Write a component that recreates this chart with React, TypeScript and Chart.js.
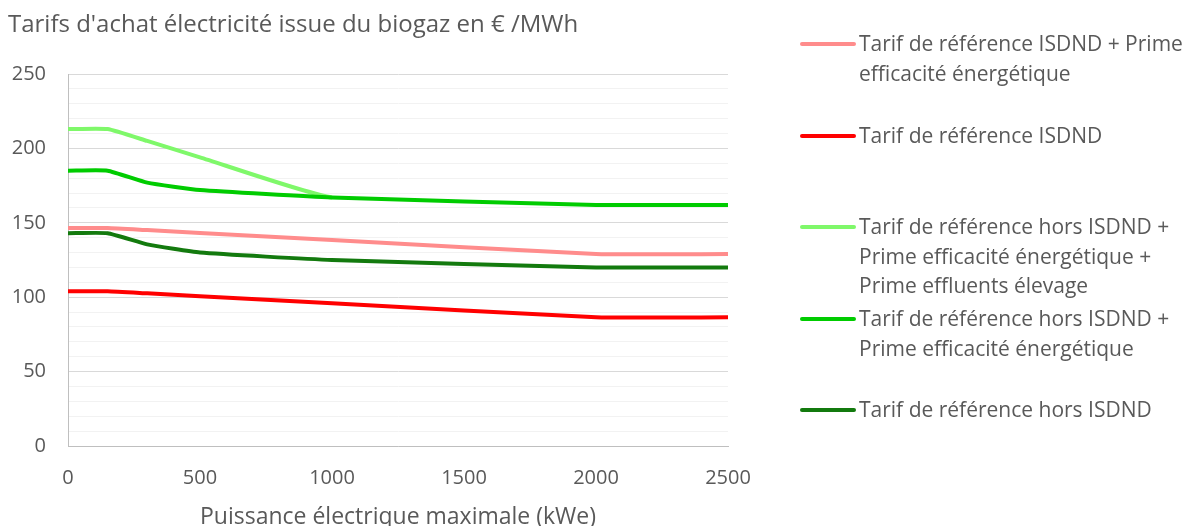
import React, { useEffect, useRef } from 'react';
import { Chart, registerables } from 'chart.js';

Chart.register(...registerables);

const powerKWe = [0, 150, 300, 500, 1000, 2000, 2500];
const tarifIsdndPrime = [146.5, 146.5, 145.1, 143.2, 138.5, 129, 129];
const tarifIsdnd = [104, 104, 102.6, 100.7, 96, 86.5, 86.5];
const tarifHorsPrimeEffluents = [213, 213, 205, 194, 167, 162, 162];
const tarifHorsPrime = [185, 185, 177, 172, 167, 162, 162];
const tarifHors = [143, 143, 135.5, 130, 125, 120, 120];

const seriesLabels = [
  ['Tarif de référence ISDND + Prime', 'efficacité énergétique'],
  ['Tarif de référence ISDND'],
  ['Tarif de référence hors ISDND +', 'Prime efficacité énergétique +', 'Prime effluents élevage'],
  ['Tarif de référence hors ISDND +', 'Prime efficacité énergétique'],
  ['Tarif de référence hors ISDND'],
];
const seriesColors = ['#FF8C8C', '#FF0000', '#7FF86A', '#00CC00', '#137A0E'];
const legendTops = [44, 136, 227, 319, 410];

const chartTitle = "Tarifs d'achat électricité issue du biogaz en € /MWh";
const xTitle = 'Puissance électrique maximale (kWe)';

const FONT = "'Open Sans', sans-serif";
const TEXT = '#595959';

export default function App() {
  const ref = useRef<HTMLCanvasElement>(null);

  useEffect(() => {
    if (!ref.current) return;
    const series = [tarifIsdndPrime, tarifIsdnd, tarifHorsPrimeEffluents, tarifHorsPrime, tarifHors];
    // draw order: green on top of light green
    const orders = [1, 1, 3, 0, 1];
    const chart = new Chart(ref.current, {
      type: 'line',
      data: {
        datasets: series.map((s, i) => ({
          label: seriesLabels[i].join(' '),
          data: powerKWe.map((x, j) => ({ x, y: s[j] })),
          borderColor: seriesColors[i],
          backgroundColor: seriesColors[i],
          borderWidth: 4,
          pointRadius: 0,
          tension: 0.15,
          order: orders[i],
          borderCapStyle: 'butt' as const,
          borderJoinStyle: 'round' as const,
          // the light-green series coincides with the green one past 1000 kWe
          segment:
            i === 2
              ? { borderColor: (c: any) => (c.p0.parsed.x >= 1000 ? 'rgba(0,0,0,0)' : undefined) }
              : undefined,
        })),
      },
      options: {
        animation: false,
        responsive: false,
        maintainAspectRatio: false,
        layout: { padding: { left: 8, right: 456, top: 0, bottom: 0 } },
        plugins: {
          legend: { display: false },
          tooltip: { enabled: false },
          title: {
            display: true,
            text: chartTitle,
            align: 'start',
            color: TEXT,
            font: { family: FONT, size: 24, weight: 'normal', lineHeight: 1.2 },
            padding: { top: 11, bottom: 34.2 },
          },
        },
        scales: {
          x: {
            type: 'linear',
            min: 0,
            max: 2500,
            ticks: {
              stepSize: 500,
              color: TEXT,
              font: { family: FONT, size: 20 },
              padding: 20,
              maxRotation: 0,
              autoSkip: false,
              callback: (v: any) => String(v),
            },
            grid: { display: false, drawTicks: false },
            border: { display: true, color: '#BFBFBF', width: 1 },
            title: {
              display: true,
              text: xTitle,
              color: TEXT,
              font: { family: FONT, size: 23, lineHeight: 1.2 },
              padding: { top: 0, bottom: -5 },
            },
            afterFit: (s: any) => {
              s.height = 80;
            },
          },
          y: {
            min: 0,
            max: 250,
            ticks: {
              stepSize: 10,
              autoSkip: false,
              color: TEXT,
              font: { family: FONT, size: 20 },
              padding: 22,
              callback: (v: any) => (Number(v) % 50 === 0 ? String(v) : ''),
            },
            grid: {
              drawTicks: false,
              color: (c: any) => (c.tick && c.tick.value % 50 === 0 ? '#D9D9D9' : '#F2F2F2'),
              lineWidth: 1,
            },
            border: { display: true, color: '#BFBFBF', width: 1 },
            afterFit: (s: any) => {
              s.width = 60;
            },
          },
        },
      },
    });
    return () => chart.destroy();
  }, []);

  return (
    <div style={{ position: 'absolute', left: 0, top: 0, width: 1184, height: 526, background: '#fff', overflow: 'hidden' }}>
      <canvas ref={ref} width={1184} height={526} style={{ position: 'absolute', left: 0, top: 0 }} />
      {seriesLabels.map((lines, i) => (
        <div key={i}>
          <div
            style={{
              position: 'absolute',
              left: 800,
              top: legendTops[i] - 2,
              width: 56,
              height: 4,
              borderRadius: 2,
              background: seriesColors[i],
            }}
          />
          <div
            style={{
              position: 'absolute',
              left: 859,
              top: legendTops[i] - 15,
              fontFamily: FONT,
              fontSize: 21,
              lineHeight: '29.5px',
              color: TEXT,
              whiteSpace: 'nowrap',
            }}
          >
            {lines.map((l, k) => (
              <div key={k}>{l}</div>
            ))}
          </div>
        </div>
      ))}
    </div>
  );
}
